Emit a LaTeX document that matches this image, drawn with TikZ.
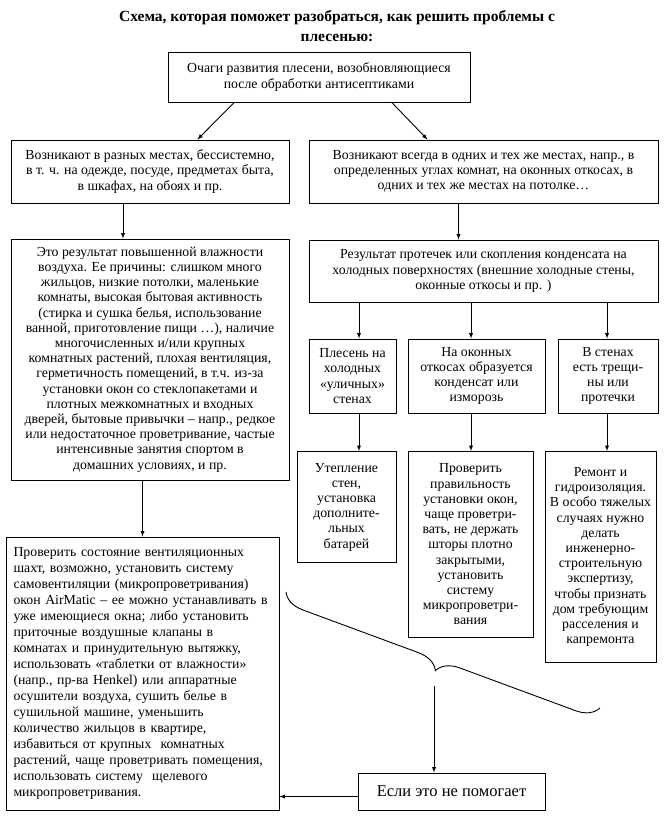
\documentclass[tikz,border=0pt]{standalone}
\usepackage{fontspec}
\setmainfont{Liberation Serif}
\usetikzlibrary{decorations.pathreplacing}

\begin{document}
\begin{tikzpicture}[x=1pt, y=-1pt, font=\fontsize{13.8}{15.2}\selectfont,
  box/.style={draw, line width=0.9pt, inner sep=2pt, align=center},
  arr/.style={-latex, line width=0.9pt}]
  \useasboundingbox (0,0) rectangle (670,832);
  \node[font=\fontsize{15.5}{20}\selectfont\bfseries, align=center] (title) at (337,26)
    {Схема, которая поможет разобраться, как решить проблемы с\\ плесенью:};
  \node[box, minimum width=302pt, minimum height=50pt] (focus) at (319,77)
    {Очаги развития плесени, возобновляющиеся\\ после обработки антисептиками};
  \node[box, minimum width=278pt, minimum height=63pt] (scatter) at (150,171.5)
    {Возникают в разных местах, бессистемно,\\ в т. ч. на одежде, посуде, предметах быта,\\ в шкафах, на обоях и пр.};
  \node[box, minimum width=349pt, minimum height=63pt] (same) at (483.5,171.5)
    {Возникают всегда в одних и тех же местах, напр., в\\ определенных углах комнат, на оконных откосах, в\\ одних и тех же местах на потолке…};
  \node[box, minimum width=278pt, minimum height=241pt] (humid) at (150,359.5)
    {Это результат повышенной влажности\\ воздуха. Ее причины: слишком много\\ жильцов, низкие потолки, маленькие\\ комнаты, высокая бытовая активность\\ (стирка и сушка белья, использование\\ ванной, приготовление пищи …), наличие\\ многочисленных и/или крупных\\ комнатных растений, плохая вентиляция,\\ герметичность помещений, в т.ч. из-за\\ установки окон со стеклопакетами и\\ плотных межкомнатных и входных\\ дверей, бытовые привычки – напр., редкое\\ или недостаточное проветривание, частые\\ интенсивные занятия спортом в\\ домашних условиях, и пр.};
  \node[box, minimum width=349pt, minimum height=62pt] (cond) at (483.5,271)
    {Результат протечек или скопления конденсата на\\ холодных поверхностях (внешние холодные стены,\\ оконные откосы и пр. )};
  \node[box, minimum width=87pt, minimum height=74pt] (wall) at (352.5,376)
    {Плесень на\\ холодных\\ «уличных»\\ стенах};
  \node[box, minimum width=137pt, minimum height=74pt] (window) at (476.5,376)
    {На оконных\\ откосах образуется\\ конденсат или\\ изморозь};
  \node[box, minimum width=100pt, minimum height=74pt] (crack) at (608,376)
    {В стенах\\ есть трещи-\\ны или\\ протечки};
  \node[box, minimum width=99pt, minimum height=111pt, anchor=north] (insul) at (346.5,451)
    {Утепление\\ стен,\\ установка\\ дополните-\\льных\\ батарей};
  \node[box, minimum width=125pt, minimum height=186pt, anchor=north] (check) at (470.5,451)
    {Проверить\\ правильность\\ установки окон,\\ чаще проветри-\\вать, не держать\\ шторы плотно\\ закрытыми,\\ установить\\ систему\\ микропроветри-\\вания};
  \node[box, minimum width=111pt, minimum height=211pt, anchor=north] (repair) at (600.5,451)
    {Ремонт и\\ гидроизоляция.\\ В особо тяжелых\\ случаях нужно\\ делать\\ инженерно-\\строительную\\ экспертизу,\\ чтобы признать\\ дом требующим\\ расселения и\\ капремонта};
  \node[box, minimum width=273pt, minimum height=273pt, text width=258pt, align=left,
    font=\fontsize{13.8}{16}\selectfont] (remedy) at (142.5,673.5)
    {Проверить состояние вентиляционных\\ шахт, возможно, установить систему\\ самовентиляции (микропроветривания)\\ окон AirMatic – ее можно устанавливать в\\ уже имеющиеся окна; либо установить\\ приточные воздушные клапаны в\\ комнатах и принудительную вытяжку,\\ использовать «таблетки от влажности»\\ (напр., пр-ва Henkel) или аппаратные\\ осушители воздуха, сушить белье в\\ сушильной машине, уменьшить\\ количество жильцов в квартире,\\ избавиться от крупных \ комнатных\\ растений, чаще проветривать помещения,\\ использовать систему \ щелевого\\ микропроветривания.};
  \node[box, minimum width=187pt, minimum height=37pt, font=\fontsize{16.5}{18}\selectfont] (ifnot) at (451.5,791.5)
    {Если это не помогает};
  \path (focus.south west) -- coordinate[pos=0.22] (fl) coordinate[pos=0.74] (fr) (focus.south east);
  \path (scatter.north west) -- coordinate[pos=0.67] (sl) (scatter.north east);
  \path (same.north west) -- coordinate[pos=0.34] (sr) (same.north east);
  \draw[arr] (fl) -- (sl);
  \draw[arr] (fr) -- (sr);
  \draw[arr] ([xshift=-27pt]scatter.south) -- ([xshift=-27pt]humid.north);
  \draw[arr] ([xshift=-25pt]same.south) -- ([xshift=-25pt]same.south |- cond.north);
  \foreach \sub/\fix/\x in {wall/insul/359, window/check/471, crack/repair/607} {
    \draw[arr] (cond.south -| \x,0) -- (\sub.north -| \x,0);
    \draw[arr] (\sub.south -| \x,0) -- (\fix.north -| \x,0);
  }
  \draw[arr] (humid.south -| remedy.north) -- (remedy.north);
  \coordinate (brl) at (286,592);
  \coordinate (brr) at (600,708);
  \draw[line width=0.9pt, decorate, decoration={brace, amplitude=22pt, mirror}] (brl) -- (brr);
  \coordinate (brtip) at (434,686);
  \draw[arr] (brtip) -- (brtip |- ifnot.north);
  \draw[arr] ([yshift=-5pt]ifnot.west) -- ([yshift=-5pt]ifnot.west -| remedy.east);
\end{tikzpicture}
\end{document}
